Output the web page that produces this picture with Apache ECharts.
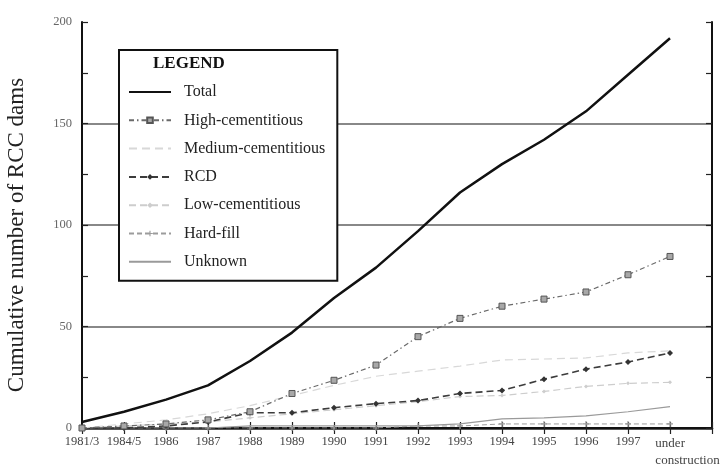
<!DOCTYPE html>
<html>
<head>
<meta charset="utf-8">
<script src="https://cdn.jsdelivr.net/npm/echarts@6/dist/echarts.min.js"></script>
<style>
  html, body { margin: 0; padding: 0; background: #fff; }
  #chart { width: 726px; height: 472px; }
</style>
</head>
<body>
<div id="chart"></div>
<script>
// Year categories (the last empty slot pads the frame past "under construction")
var categories = ['1981/3', '1984/5', '1986', '1987', '1988', '1989', '1990', '1991',
  '1992', '1993', '1994', '1995', '1996', '1997', 'under construction', ''];

// Cumulative number of RCC dams per type
var total            = [3, 8, 14, 21, 33, 47, 64, 79, 97, 116, 130, 142, 156, 174, 192];
var highCementitious = [0, 1, 2, 4, 8, 17, 23.5, 31, 45, 54, 60, 63.5, 67, 75.5, 84.5];
var medCementitious  = [0, 2, 4, 7, 11, 16, 21, 25.5, 28, 30.5, 33.5, 34, 34.5, 37, 38];
var rcd              = [0, 0, 1, 3, 7.5, 7.5, 10, 12, 13.5, 17, 18.5, 24, 29, 32.5, 37];
var lowCementitious  = [0, 1, 2, 3, 5, 7, 9, 11, 13, 15.5, 16, 18, 20.5, 22, 22.5];
var hardFill         = [0, 0, 0, 0, 0, 0, 0, 0, 1, 1, 2, 2, 2, 2, 2];
var unknown          = [0, 0, 0, 0, 1, 1, 1, 1, 1, 2, 4.5, 5, 6, 8, 10.5];

var yTicks = [0, 50, 100, 150, 200];
var legendNames = ['Total', 'High-cementitious', 'Medium-cementitious', 'RCD',
  'Low-cementitious', 'Hard-fill', 'Unknown'];
var plainLegend = { 'Total': 1, 'Medium-cementitious': 1, 'Unknown': 1 };

var SERIF = '"Liberation Serif", "DejaVu Serif", serif';
var plusPath = 'path://M4,0h2v4h4v2h-4v4h-2v-4h-4v-2h4z';

var chart = echarts.init(document.getElementById('chart'), null, { renderer: 'canvas' });

function lineSeries(name, data, color, width, dash, extra) {
  var s = {
    name: name,
    type: 'line',
    data: data,
    xAxisIndex: 0,
    yAxisIndex: 0,
    smooth: false,
    showSymbol: false,
    symbol: 'none',
    lineStyle: { color: color, width: width, type: dash },
    itemStyle: { color: color },
    emphasis: { disabled: true },
    z: 3
  };
  if (extra) { for (var k in extra) s[k] = extra[k]; }
  return s;
}

// legend rows: line-only samples hide the marker glyph
var legendData = legendNames.map(function (n) {
  return plainLegend[n] ? { name: n, itemStyle: { opacity: 0 } } : { name: n };
});

var option = {
  animation: false,
  backgroundColor: '#fff',
  title: {
    text: 'LEGEND',
    left: 153,
    top: 55,
    padding: 0,
    z: 20,
    textStyle: { fontFamily: SERIF, fontWeight: 'bold', fontSize: 17, color: '#111' }
  },
  legend: {
    orient: 'vertical',
    left: 119,
    top: 50,
    padding: [34, 12, 11, 9],
    itemWidth: 42,
    itemHeight: 7,
    itemGap: 12.3,
    borderColor: '#111',
    borderWidth: 2,
    backgroundColor: '#fff',
    selectedMode: false,
    z: 10,
    textStyle: { fontFamily: SERIF, fontSize: 16, lineHeight: 16, color: '#222', padding: [0, 0, 0, 8] },
    data: legendData
  },
  graphic: [
    {
      type: 'text',
      x: 17,
      y: 235,
      rotation: Math.PI / 2,
      style: {
        text: 'Cumulative number of RCC dams',
        fontFamily: SERIF,
        fontSize: 23,
        fill: '#222',
        align: 'center',
        verticalAlign: 'middle'
      }
    }
  ],
  grid: { left: 82, right: 14, top: 22, bottom: 44, containLabel: false, outerBoundsMode: 'none' },
  xAxis: [
    {
      type: 'category',
      position: 'bottom',
      data: categories,
      boundaryGap: false,
      axisLine: { show: true, lineStyle: { color: '#222', width: 2.5 } },
      axisTick: { show: true, inside: true, length: 6, interval: 0, lineStyle: { color: '#222', width: 1.2 } },
      axisLabel: {
        show: true,
        interval: 0,
        margin: 7,
        fontFamily: SERIF,
        fontSize: 12.5,
        color: '#444',
        formatter: function (v) {
          if (v === 'under construction') return '{uc|under}\n{uc|construction}';
          return v;
        },
        rich: {
          uc: { fontFamily: SERIF, fontSize: 13, color: '#444', align: 'left', lineHeight: 17, padding: [0, 0, 0, 35] }
        }
      },
      splitLine: { show: false },
      name: 'Year',
      nameLocation: 'middle',
      nameGap: 27,
      nameTextStyle: { fontFamily: SERIF, fontWeight: 'bold', fontSize: 14, color: '#111', padding: [0, 20, 0, 0] }
    },
    {
      type: 'category',
      position: 'top',
      data: categories,
      boundaryGap: false,
      axisLine: { show: true, lineStyle: { color: '#111', width: 2 } },
      axisTick: { show: true, inside: true, length: 6, interval: 0, lineStyle: { color: '#222', width: 1.2 } },
      axisLabel: { show: false },
      splitLine: { show: false }
    }
  ],
  yAxis: [
    {
      type: 'value',
      position: 'left',
      min: yTicks[0],
      max: yTicks[yTicks.length - 1],
      interval: 50,
      axisLine: { show: true, lineStyle: { color: '#111', width: 2 } },
      axisTick: { show: true, inside: true, length: 6, lineStyle: { color: '#222', width: 1.2 } },
      minorTick: { show: true, splitNumber: 2, length: 6, lineStyle: { color: '#222', width: 1.2 } },
      axisLabel: { show: true, margin: 10, fontFamily: SERIF, fontSize: 12.5, color: '#666' },
      splitLine: { show: true, showMinLine: false, showMaxLine: false, lineStyle: { color: '#888', width: 2 } }
    },
    {
      type: 'value',
      position: 'right',
      min: yTicks[0],
      max: yTicks[yTicks.length - 1],
      interval: 50,
      axisLine: { show: true, lineStyle: { color: '#111', width: 2 } },
      axisTick: { show: true, inside: true, length: 6, lineStyle: { color: '#222', width: 1.2 } },
      minorTick: { show: true, splitNumber: 2, length: 6, lineStyle: { color: '#222', width: 1.2 } },
      axisLabel: { show: false },
      splitLine: { show: false }
    }
  ],
  series: [
    lineSeries('Unknown', unknown, '#9a9a9a', 1.2, 'solid'),
    lineSeries('Hard-fill', hardFill, '#9c9c9c', 1, [5, 3], {
      symbol: plusPath, showSymbol: true, symbolSize: 6
    }),
    lineSeries('Low-cementitious', lowCementitious, '#cdcdcd', 1.2, [7, 4], {
      symbol: 'diamond', showSymbol: true, symbolSize: 4
    }),
    lineSeries('RCD', rcd, '#3c3c3c', 1.6, [7, 4], {
      symbol: 'diamond', showSymbol: true, symbolSize: 6,
      itemStyle: { color: '#333' }
    }),
    lineSeries('Medium-cementitious', medCementitious, '#d8d8d8', 1.2, [8, 5]),
    lineSeries('High-cementitious', highCementitious, '#6a6a6a', 1.2, [5, 3, 1.5, 3], {
      symbol: 'rect', showSymbol: true, symbolSize: 6,
      itemStyle: { color: '#a8a8a8', borderColor: '#555', borderWidth: 1 }
    }),
    lineSeries('Total', total, '#111', 2.5, 'solid', { z: 5 })
  ]
};

chart.setOption(option);
</script>
</body>
</html>
